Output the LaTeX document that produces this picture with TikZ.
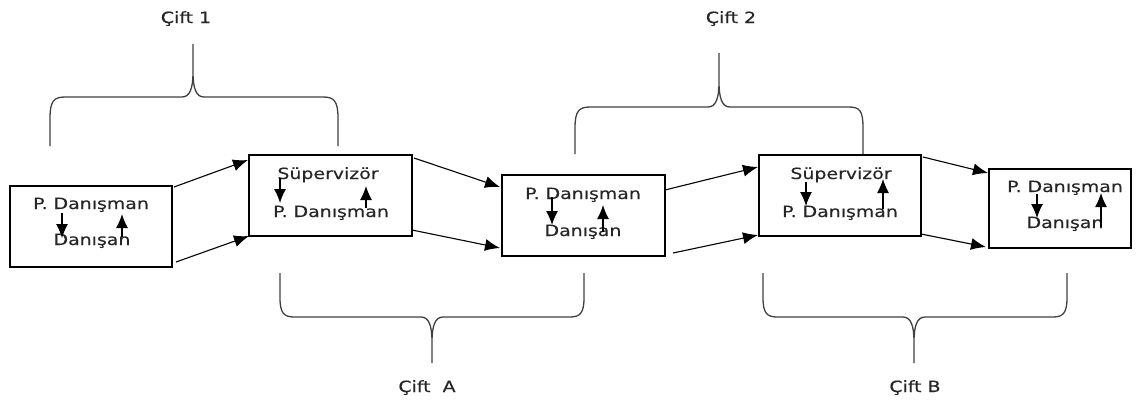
\documentclass[tikz,border=0pt]{standalone}
\usepackage{fontspec}
\newfontfamily\lbl[FakeStretch=1.22,FakeBold=0.3]{DejaVu Sans}
\usetikzlibrary{arrows.meta}
\tikzset{
  box/.style={draw=black, line width=1.1pt, inner sep=0pt, outer sep=0pt, anchor=center},
  txt/.style={font=\lbl\fontsize{15.5}{17}\selectfont, inner sep=0pt, anchor=base, text=black!85},
  conn/.style={line width=1.1pt, -{Latex[length=15pt,width=12pt]}},
  inarr/.style={line width=1.1pt, -{Latex[length=14pt,width=12pt]}},
  brace/.style={draw=black!75, line width=1.3pt}
}
\begin{document}
\begin{tikzpicture}[x=1pt,y=-1pt]
\useasboundingbox (0,0) rectangle (1136,400);
% boxes
\node[box, minimum width=162pt, minimum height=81pt] (b1) at (91,226.5) {};
\node[box, minimum width=163pt, minimum height=81pt] (b2) at (330.5,195.5) {};
\node[box, minimum width=163pt, minimum height=81pt] (b3) at (583.5,215.5) {};
\node[box, minimum width=162pt, minimum height=81pt] (b4) at (840,195.5) {};
\node[box, minimum width=142pt, minimum height=79pt] (b5) at (1060,208.5) {};
% texts
\node[txt] (t1a) at (91,209) {P. Danışman};
\node[txt] (t1b) at (92,245) {Danışan};
\node[txt] (t2a) at (328,179) {Süpervizör};
\node[txt] (t2b) at (331,217) {P. Danışman};
\node[txt] (t3a) at (583,199) {P. Danışman};
\node[txt] (t3b) at (583,236) {Danışan};
\node[txt] (t4a) at (841,179) {Süpervizör};
\node[txt] (t4b) at (840,217) {P. Danışman};
\node[txt] (t5a) at (1065,192) {P. Danışman};
\node[txt] (t5b) at (1065,228) {Danışan};
% inner arrows
\coordinate (d1s) at (62,213); \coordinate (d1e) at (62,238);
\coordinate (u1s) at (122,237); \coordinate (u1e) at (122,214);
\coordinate (d2s) at (280,178); \coordinate (d2e) at (280,203);
\coordinate (u2s) at (366,208); \coordinate (u2e) at (366,186);
\coordinate (d3s) at (552,197); \coordinate (d3e) at (552,225);
\coordinate (u3s) at (603,232); \coordinate (u3e) at (603,205);
\coordinate (d4s) at (806,182); \coordinate (d4e) at (806,206);
\coordinate (u4s) at (883,209); \coordinate (u4e) at (883,179);
\coordinate (d5s) at (1037,194); \coordinate (d5e) at (1037,218);
\coordinate (u5s) at (1101,227); \coordinate (u5e) at (1101,193);
\foreach \i in {1,...,5}{
  \draw[inarr] (d\i s) -- (d\i e);
  \draw[inarr] (u\i s) -- (u\i e);
}
% connectors between boxes
\coordinate (c1s) at (174,187); \coordinate (c1e) at (248,160);
\coordinate (c2s) at (176,262); \coordinate (c2e) at (249,236);
\coordinate (c3s) at (414,158); \coordinate (c3e) at (500,187);
\coordinate (c4s) at (412,230); \coordinate (c4e) at (500,248);
\coordinate (c5s) at (665,190); \coordinate (c5e) at (758,167);
\coordinate (c6s) at (673,253); \coordinate (c6e) at (758,235);
\coordinate (c7s) at (923,157); \coordinate (c7e) at (988,173);
\coordinate (c8s) at (921,234); \coordinate (c8e) at (986,247);
\foreach \i in {1,...,8}{
  \draw[conn] (c\i s) -- (c\i e);
}
% braces (top)
\draw[brace] (50,146) -- (50,118) .. controls (50,101) and (54,97) .. (65,97)
  -- (182,97) .. controls (190,97) and (193,88) .. (193,72) -- (193,44)
  (193,72) .. controls (193,88) and (196,97) .. (204,97)
  -- (323,97) .. controls (334,97) and (338,101) .. (338,118) -- (338,146);
\draw[brace] (575,154) -- (575,128) .. controls (575,111) and (579,107) .. (590,107)
  -- (708,107) .. controls (716,107) and (719,98) .. (719,82) -- (719,53)
  (719,82) .. controls (719,98) and (722,107) .. (730,107)
  -- (849,107) .. controls (860,107) and (863,111) .. (863,128) -- (863,154);
% braces (bottom)
\draw[brace] (280,273) -- (280,298) .. controls (280,313) and (284,317) .. (294,317)
  -- (421,317) .. controls (429,317) and (432,326) .. (432,342) -- (432,363)
  (432,342) .. controls (432,326) and (435,317) .. (443,317)
  -- (570,317) .. controls (580,317) and (584,313) .. (584,298) -- (584,273);
\draw[brace] (763,273) -- (763,298) .. controls (763,313) and (767,317) .. (777,317)
  -- (903,317) .. controls (911,317) and (914,326) .. (914,342) -- (914,363)
  (914,342) .. controls (914,326) and (917,317) .. (925,317)
  -- (1053,317) .. controls (1063,317) and (1067,313) .. (1067,298) -- (1067,273);
% labels
\node[txt] (l1) at (186,23) {Çift 1};
\node[txt] (l2) at (731,23) {Çift 2};
\node[txt] (lA) at (427,392) {Çift\ \ A};
\node[txt] (lB) at (915,392) {Çift B};
\end{tikzpicture}
\end{document}
